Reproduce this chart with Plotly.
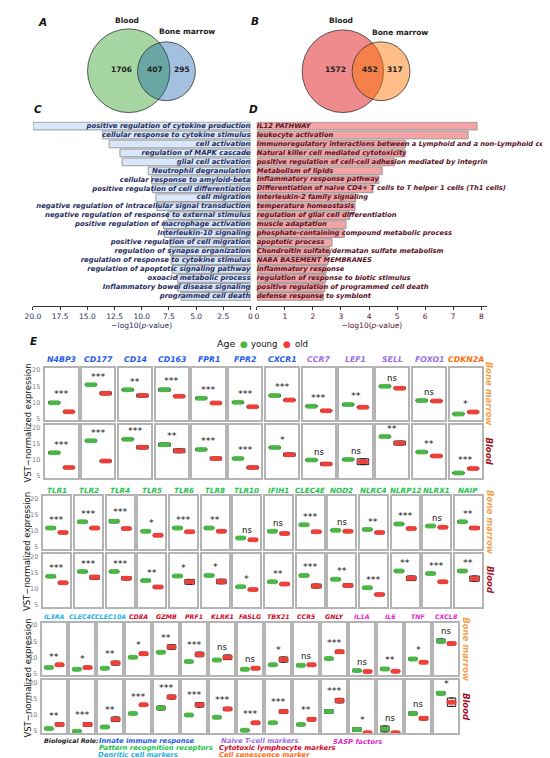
import plotly.graph_objects as go

W, H = 550, 758
FONT = "DejaVu Sans"

# ---------------- data ----------------
VENN_A_COUNTS = [1706, 407, 295]   # blood only, both, bone marrow only
VENN_B_COUNTS = [1572, 452, 317]

GO_C_TERMS = [
    "positive regulation of cytokine production",
    "cellular response to cytokine stimulus",
    "cell activation",
    "regulation of MAPK cascade",
    "glial cell activation",
    "Neutrophil degranulation",
    "cellular response to amyloid-beta",
    "positive regulation of cell differentiation",
    "cell migration",
    "negative regulation of intracellular signal transduction",
    "negative regulation of response to external stimulus",
    "positive regulation of macrophage activation",
    "Interleukin-10 signaling",
    "positive regulation of cell migration",
    "regulation of synapse organization",
    "regulation of response to cytokine stimulus",
    "regulation of apoptotic signaling pathway",
    "oxoacid metabolic process",
    "Inflammatory bowel disease signaling",
    "programmed cell death",
]
GO_C_VALUES = [20.0, 13.6, 13.0, 12.0, 11.8, 9.4, 9.1, 9.0, 8.7, 8.6,
               7.6, 8.0, 7.9, 7.4, 7.4, 7.3, 7.2, 6.7, 6.7, 6.4]

GO_D_TERMS = [
    "IL12 PATHWAY",
    "leukocyte activation",
    "Immunoregulatory interactions between a Lymphoid and a non-Lymphoid cell",
    "Natural killer cell mediated cytotoxicity",
    "positive regulation of cell-cell adhesion mediated by integrin",
    "Metabolism of lipids",
    "Inflammatory response pathway",
    "Differentiation of naive CD4+ T cells to T helper 1 cells (Th1 cells)",
    "Interleukin-2 family signaling",
    "temperature homeostasis",
    "regulation of glial cell differentiation",
    "muscle adaptation",
    "phosphate-containing compound metabolic process",
    "apoptotic process",
    "Chondroitin sulfate/dermatan sulfate metabolism",
    "NABA BASEMENT MEMBRANES",
    "inflammatory response",
    "regulation of response to biotic stimulus",
    "positive regulation of programmed cell death",
    "defense response to symbiont",
]
GO_D_VALUES = [7.85, 7.53, 5.3, 5.28, 4.9, 4.47, 4.35, 4.14, 3.53, 3.5,
               3.3, 3.18, 3.12, 2.68, 2.6, 2.54, 2.48, 2.46, 2.43, 2.37]

C_TICKS = [20.0, 17.5, 15.0, 12.5, 10.0, 7.5, 5.0, 2.5, 0.0]
C_TICK_TEXT = ["20.0", "17.5", "15.0", "12.5", "10.0", "7.5", "5.0", "2.5", "0"]
D_TICKS = [0, 1, 2, 3, 4, 5, 6, 7, 8]

# block 1
B1_GENES = ["N4BP3", "CD177", "CD14", "CD163", "FPR1", "FPR2", "CXCR1",
            "CCR7", "LEF1", "SELL", "FOXO1", "CDKN2A"]
B1_ROLES = ["innate"] * 7 + ["naive"] * 4 + ["senescence"]
B1_BM_YOUNG = [9.9, 15.5, 13.9, 13.9, 11.3, 10.0, 12.1, 8.8, 9.3, 15.0, 10.6, 6.4]
B1_BM_OLD = [7.1, 12.8, 12.1, 11.9, 9.8, 8.6, 10.7, 7.4, 8.5, 14.4, 10.4, 7.0]
B1_BM_IQR_YOUNG = [0.6, 0.5, 0.6, 0.9, 0.6, 0.5, 0.6, 0.5, 0.6, 0.6, 0.5, 0.4]
B1_BM_IQR_OLD = [0.5, 0.9, 0.9, 0.6, 0.5, 0.5, 0.5, 0.4, 0.5, 0.6, 0.5, 0.4]
B1_BM_SIG = ["***", "***", "**", "***", "***", "***", "***", "***", "**", "ns", "ns", "*"]
B1_BL_YOUNG = [12.3, 16.0, 16.5, 14.8, 13.3, 10.5, 13.9, 10.0, 10.2, 17.3, 12.5, 6.0]
B1_BL_OLD = [7.7, 9.7, 14.0, 12.9, 10.5, 7.7, 11.7, 8.8, 9.5, 15.3, 11.3, 7.4]
B1_BL_IQR_YOUNG = [0.6, 0.6, 0.5, 1.0, 0.5, 0.5, 0.5, 0.5, 0.5, 0.5, 0.5, 0.4]
B1_BL_IQR_OLD = [0.5, 0.6, 1.0, 1.2, 0.9, 0.8, 1.0, 0.8, 1.8, 1.2, 0.6, 0.5]
B1_BL_SIG = ["***", "***", "***", "**", "***", "***", "*", "ns", "ns", "**", "**", "***"]

# block 2
B2_GENES = ["TLR1", "TLR2", "TLR4", "TLR5", "TLR6", "TLR8", "TLR10", "IFIH1",
            "CLEC4E", "NOD2", "NLRC4", "NLRP12", "NLRX1", "NAIP"]
B2_ROLES = ["prr"] * 14
B2_BM_YOUNG = [10.9, 12.8, 13.0, 9.9, 10.9, 10.9, 7.8, 9.9, 11.9, 10.2, 10.4, 12.1, 11.5, 12.8]
B2_BM_OLD = [9.5, 10.9, 10.7, 8.6, 9.7, 9.9, 7.2, 9.2, 9.7, 9.9, 9.5, 10.7, 11.1, 10.9]
B2_BM_IQR_YOUNG = [0.6, 0.6, 1.0, 0.5, 0.5, 0.6, 0.4, 0.4, 0.5, 0.4, 0.4, 0.5, 0.4, 0.5]
B2_BM_IQR_OLD = [0.5, 0.5, 0.6, 0.6, 0.5, 0.5, 0.4, 0.4, 0.6, 0.4, 0.4, 0.6, 0.5, 0.8]
B2_BM_SIG = ["***", "***", "***", "*", "***", "**", "ns", "ns", "***", "ns", "**", "***", "ns", "**"]
B2_BL_YOUNG = [13.8, 15.3, 15.3, 12.5, 13.9, 14.1, 10.6, 12.1, 14.1, 12.9, 10.3, 15.5, 14.7, 15.5]
B2_BL_OLD = [11.8, 13.5, 13.2, 10.5, 12.1, 12.2, 9.7, 11.4, 10.8, 11.0, 8.2, 13.2, 12.1, 13.1]
B2_BL_IQR_YOUNG = [0.5, 0.5, 0.5, 0.5, 0.5, 0.5, 0.4, 0.4, 0.6, 0.5, 0.4, 0.5, 0.4, 0.5]
B2_BL_IQR_OLD = [0.6, 1.2, 1.0, 0.7, 1.5, 1.4, 0.5, 0.5, 1.2, 1.0, 0.6, 1.4, 0.6, 1.6]
B2_BL_SIG = ["***", "***", "***", "**", "*", "*", "*", "**", "***", "**", "***", "**", "***", "**"]

# block 3
B3_GENES = ["IL3RA", "CLEC4C", "CLEC10A", "CD8A", "GZMB", "PRF1", "KLRK1", "FASLG",
            "TBX21", "CCR5", "GNLY", "IL1A", "IL6", "TNF", "CXCL8"]
B3_ROLES = ["dendritic"] * 3 + ["cytotoxic"] * 8 + ["sasp"] * 4
B3_BM_YOUNG = [6.8, 6.3, 6.6, 10.0, 11.6, 8.7, 9.2, 6.3, 7.7, 7.5, 9.6, 5.9, 6.4, 9.5, 15.1]
B3_BM_OLD = [7.7, 6.8, 8.2, 11.1, 13.2, 10.9, 10.0, 6.6, 9.3, 7.7, 11.7, 5.6, 5.7, 8.5, 14.3]
B3_BM_IQR_YOUNG = [0.4, 0.4, 0.4, 0.5, 0.4, 0.4, 0.4, 0.4, 0.5, 0.4, 0.4, 0.6, 0.8, 0.8, 1.2]
B3_BM_IQR_OLD = [0.5, 0.6, 1.2, 1.0, 1.4, 1.4, 1.4, 0.8, 1.6, 0.6, 1.0, 0.4, 0.3, 0.4, 0.8]
B3_BM_SIG = ["**", "*", "**", "*", "**", "***", "ns", "ns", "*", "ns", "***", "ns", "**", "*", "ns"]
B3_BL_YOUNG = [5.8, 5.0, 6.3, 10.5, 12.2, 10.0, 9.3, 5.3, 7.6, 7.1, 11.1, 5.5, 5.7, 10.5, 16.8]
B3_BL_OLD = [7.1, 7.1, 8.7, 13.2, 15.6, 13.2, 11.9, 7.6, 11.1, 8.7, 14.5, 4.5, 4.5, 9.0, 14.0]
B3_BL_IQR_YOUNG = [0.4, 0.4, 0.6, 0.4, 1.2, 0.6, 0.4, 0.4, 0.5, 0.4, 1.2, 1.2, 1.8, 1.0, 1.0]
B3_BL_IQR_OLD = [1.0, 1.2, 1.4, 0.5, 1.2, 1.4, 1.0, 0.8, 1.2, 1.0, 1.4, 0.3, 0.3, 1.0, 2.6]
B3_BL_SIG = ["**", "***", "**", "***", "***", "***", "***", "***", "***", "**", "***", "*", "ns", "ns", "*"]

Y_TICKS = [5, 10, 15, 20]

# ---------------- styles ----------------
ROLE_COLORS = {
    "innate": "#1f5ce8",
    "prr": "#1fc24f",
    "dendritic": "#1eb0e6",
    "naive": "#9a6fe6",
    "cytotoxic": "#d0062a",
    "senescence": "#ff6d0f",
    "sasp": "#e21fcc",
}
YOUNG_COL = "#4cb848"
OLD_COL = "#f0403a"
BORDER = "#b4b4b4"
NAVY = "#1f2d5e"
MAROON = "#5a1224"
JITTER = [-0.24, -0.08, 0.08, 0.24]
Y_RANGE = [4.4, 20.8]


def px(x):
    return x / W


def py(y):
    return 1 - y / H


annotations = []
shapes = []


def note(x, y, text, size, color="#111", xanchor="center", yanchor="middle",
         angle=0, xref="paper", yref="paper"):
    if xref == "paper":
        x = px(x)
    if yref == "paper":
        y = py(y)
    annotations.append(dict(
        x=x, y=y, xref=xref, yref=yref, text=text, showarrow=False,
        xanchor=xanchor, yanchor=yanchor, textangle=angle,
        font=dict(family=FONT, size=size, color=color),
    ))


def circle(cx, cy, r, fill):
    shapes.append(dict(
        type="circle", xref="paper", yref="paper",
        x0=px(cx - r), x1=px(cx + r), y0=py(cy + r), y1=py(cy - r),
        fillcolor=fill, line=dict(color="#333333", width=0.8),
    ))


fig = go.Figure()
layout = {}

# ---------------- A / B : venn ----------------
circle(115, 62, 42, "#a6d7a2")
circle(153.5, 62.5, 29.5, "rgba(0,80,170,0.36)")
circle(333.5, 62.5, 41.5, "#f08b8d")
circle(372.5, 62.5, 29.5, "rgba(251,117,0,0.47)")

for cx_list, counts in [([108, 142, 169], VENN_A_COUNTS), ([326, 361, 387], VENN_B_COUNTS)]:
    for cx, n in zip(cx_list, counts):
        note(cx, 61, f"<b>{n}</b>", 7.5, "#222")

note(113, 12, "<b>Blood</b>", 7.5, "#222")
note(174, 23, "<b>Bone marrow</b>", 7.5, "#222")
note(332, 12, "<b>Blood</b>", 7.5, "#222")
note(392, 24, "<b>Bone marrow</b>", 7.5, "#222")

for lab, x, y in [("A", 27, 13), ("B", 244, 12), ("C", 22, 100), ("D", 242, 100), ("E", 18, 333)]:
    note(x, y, f"<b><i>{lab}</i></b>", 10.5, "#111")

# ---------------- C / D : enrichment bars ----------------
bar_dom = [py(298), py(113)]
cat_range = [19.5 + 0.55, -0.5]

fig.add_trace(go.Bar(
    x=GO_C_VALUES, y=GO_C_TERMS, orientation="h", width=0.86,
    marker=dict(color="#d8e7fa", line=dict(color="#9a9a9a", width=1)),
    xaxis="x", yaxis="y", showlegend=False,
))
fig.add_trace(go.Scatter(
    x=[0] * len(GO_C_TERMS), y=GO_C_TERMS, mode="text",
    text=[f"<b><i>{t}</i></b>" for t in GO_C_TERMS], textposition="middle left",
    textfont=dict(family=FONT, size=6.9, color=NAVY),
    xaxis="x", yaxis="y", showlegend=False, cliponaxis=False,
))
fig.add_trace(go.Bar(
    x=GO_D_VALUES, y=GO_D_TERMS, orientation="h", width=0.86,
    marker=dict(color="#f4a4a4", line=dict(color="#9a9a9a", width=1)),
    xaxis="x2", yaxis="y2", showlegend=False,
))
fig.add_trace(go.Scatter(
    x=[0] * len(GO_D_TERMS), y=GO_D_TERMS, mode="text",
    text=[f"<b><i>{t}</i></b>" for t in GO_D_TERMS], textposition="middle right",
    textfont=dict(family=FONT, size=6.7, color=MAROON),
    xaxis="x2", yaxis="y2", showlegend=False, cliponaxis=False,
))

axis_title = "−log10(<i>p</i>-value)"
layout["xaxis"] = dict(
    domain=[px(17.3), px(239.3)], range=[20.0, 0], anchor="y",
    tickvals=C_TICKS, ticktext=C_TICK_TEXT,
    ticks="outside", ticklen=3, tickcolor="#333", showline=True, linecolor="#333",
    linewidth=1, showgrid=False, zeroline=False,
    tickfont=dict(family=FONT, size=7.5, color=NAVY),
    title=dict(text=axis_title, font=dict(family=FONT, size=7.5, color=NAVY), standoff=2),
)
layout["yaxis"] = dict(domain=bar_dom, range=cat_range, anchor="x", showticklabels=False,
                       showgrid=False, zeroline=False, ticks="", categoryorder="array",
                       categoryarray=GO_C_TERMS)
layout["xaxis2"] = dict(
    domain=[px(245.7), px(480.5)], range=[0, 8.2], anchor="y2",
    tickvals=D_TICKS, ticks="outside", ticklen=3, tickcolor="#333", showline=True,
    linecolor="#333", linewidth=1, showgrid=False, zeroline=False,
    tickfont=dict(family=FONT, size=7.5, color=MAROON),
    title=dict(text=axis_title, font=dict(family=FONT, size=7.5, color=MAROON), standoff=2),
)
layout["yaxis2"] = dict(domain=bar_dom, range=cat_range, anchor="x2", showticklabels=False,
                        showgrid=False, zeroline=False, ticks="", categoryorder="array",
                        categoryarray=GO_D_TERMS)

# ---------------- E : expression panels ----------------
note(203, 336, "Age", 9.5, "#111", xanchor="left")
note(233, 336, "●", 9, YOUNG_COL)
note(238, 336, "young", 8.5, "#111", xanchor="left")
note(277, 336, "●", 9, OLD_COL)
note(283, 336, "old", 8.5, "#111", xanchor="left")

BLOCKS = [
    dict(genes=B1_GENES, roles=B1_ROLES, left=30, pitch=37.5, width=33, label_y=352,
         label_size=7.8, side_x=483, rows=[
             (360, 413, "Bone marrow", B1_BM_YOUNG, B1_BM_OLD, B1_BM_IQR_YOUNG, B1_BM_IQR_OLD, B1_BM_SIG),
             (418, 471, "Blood", B1_BL_YOUNG, B1_BL_OLD, B1_BL_IQR_YOUNG, B1_BL_IQR_OLD, B1_BL_SIG),
         ]),
    dict(genes=B2_GENES, roles=B2_ROLES, left=28, pitch=32.3, width=27.5, label_y=483,
         label_size=7.2, side_x=483, rows=[
             (489, 542, "Bone marrow", B2_BM_YOUNG, B2_BM_OLD, B2_BM_IQR_YOUNG, B2_BM_IQR_OLD, B2_BM_SIG),
             (547, 600, "Blood", B2_BL_YOUNG, B2_BL_OLD, B2_BL_IQR_YOUNG, B2_BL_IQR_OLD, B2_BL_SIG),
         ]),
    dict(genes=B3_GENES, roles=B3_ROLES, left=27, pitch=28.57, width=24, label_y=610,
         label_size=6.3, side_x=459, rows=[
             (616, 669, "Bone marrow", B3_BM_YOUNG, B3_BM_OLD, B3_BM_IQR_YOUNG, B3_BM_IQR_OLD, B3_BM_SIG),
             (674, 727, "Blood", B3_BL_YOUNG, B3_BL_OLD, B3_BL_IQR_YOUNG, B3_BL_IQR_OLD, B3_BL_SIG),
         ]),
]
SIDE_COLORS = {"Bone marrow": "#f5a04c", "Blood": "#a2101f"}

ax = 3
for block in BLOCKS:
    genes = block["genes"]
    for i, gene in enumerate(genes):
        cx = block["left"] + i * block["pitch"] + block["width"] / 2
        note(cx, block["label_y"], f"<b><i>{gene}</i></b>", block["label_size"],
             ROLE_COLORS[block["roles"][i]])

    top_all = block["rows"][0][0]
    bottom_all = block["rows"][-1][1]
    note(12, (top_all + bottom_all) / 2, "VST−normalized expression", 8.5, "#111", angle=-90)

    for top, bottom, tissue, young, old, iqr_y, iqr_o, sig in block["rows"]:
        note(block["side_x"], (top + bottom) / 2, f"<b><i>{tissue}</i></b>", 8.5,
             SIDE_COLORS[tissue], angle=90)
        for i, gene in enumerate(genes):
            x0 = block["left"] + i * block["pitch"]
            x1 = x0 + block["width"]
            xa, ya = f"x{ax}", f"y{ax}"
            layout[f"xaxis{ax}"] = dict(
                domain=[px(x0), px(x1)], range=[0.4, 2.6], anchor=ya,
                showticklabels=False, ticks="", showgrid=False, zeroline=False,
                showline=True, mirror=True, linecolor=BORDER, linewidth=1.5,
            )
            layout[f"yaxis{ax}"] = dict(
                domain=[py(bottom), py(top)], range=Y_RANGE, anchor=xa,
                tickvals=Y_TICKS, showticklabels=(i == 0), ticks="",
                tickfont=dict(family=FONT, size=6.5, color="#808080"),
                showgrid=False, zeroline=False, showline=True, mirror=True,
                linecolor=BORDER, linewidth=1.5, ticklabelstandoff=2,
            )
            med = [young[i], old[i]]
            half = [iqr_y[i] / 2, iqr_o[i] / 2]
            q1 = [m - h for m, h in zip(med, half)]
            q3 = [m + h for m, h in zip(med, half)]
            fig.add_trace(go.Box(
                x=[1, 2], q1=q1, median=med, q3=q3, lowerfence=q1, upperfence=q3,
                width=0.78, fillcolor="white", line=dict(color="#1a1a1a", width=1),
                boxpoints=False, xaxis=xa, yaxis=ya, showlegend=False, hoverinfo="skip",
            ))
            fig.add_trace(go.Scatter(
                x=[1 + j for j in JITTER] + [2 + j for j in JITTER],
                y=[young[i]] * len(JITTER) + [old[i]] * len(JITTER),
                mode="markers",
                marker=dict(size=5, color=[YOUNG_COL] * len(JITTER) + [OLD_COL] * len(JITTER),
                            opacity=0.9),
                xaxis=xa, yaxis=ya, showlegend=False, hoverinfo="skip",
            ))
            sig_y = max(q3) + 2.4
            note(1.5, sig_y, sig[i], 8.5 if sig[i] == "ns" else 9.5, "#111",
                 xref=xa, yref=ya)
            ax += 1

# legend of biological roles
note(27, 735, "<b><i>Biological Role:</i></b>", 6.3, "#222", xanchor="left")
for text, role, x, y in [
    ("Innate immune response", "innate", 83, 735),
    ("Pattern recognition receptors", "prr", 83, 742),
    ("Denritic cell markers", "dendritic", 82, 749),
    ("Naive T-cell markers", "naive", 207, 735),
    ("Cytotoxic lymphocyte markers", "cytotoxic", 205, 742),
    ("Cell senescence marker", "senescence", 205, 749),
    ("SASP factors", "sasp", 321, 736),
]:
    note(x, y, f"<b><i>{text}</i></b>", 6.8, ROLE_COLORS[role], xanchor="left")

fig.update_layout(
    width=W, height=H, margin=dict(l=0, r=0, t=0, b=0),
    paper_bgcolor="white", plot_bgcolor="white",
    annotations=annotations, shapes=shapes, showlegend=False,
    font=dict(family=FONT), **layout,
)

fig.write_html("out.html")
